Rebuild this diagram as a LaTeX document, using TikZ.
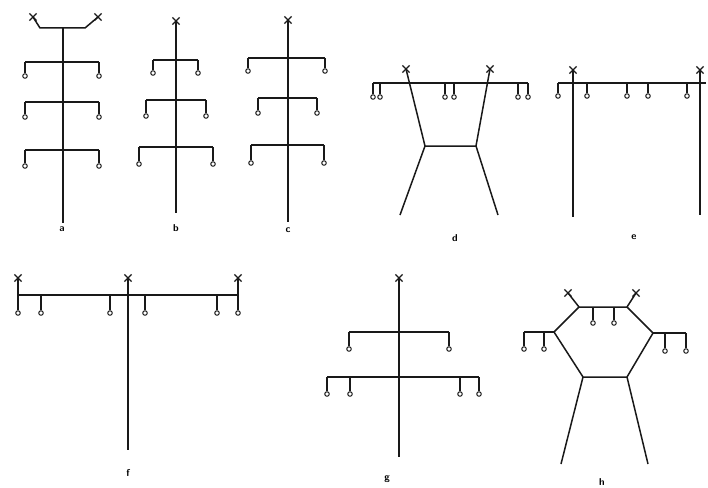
\documentclass[tikz,border=0pt]{standalone}
\usetikzlibrary{shapes.misc}
\tikzset{
  ln/.style={line width=1.5pt, draw=black!90},
  leaf/.style={circle, draw=black!90, line width=1pt, inner sep=0pt, minimum size=4.5pt, fill=white},
  rootx/.style={cross out, draw=black!90, line width=1.2pt, inner sep=0pt, minimum size=6pt},
  lab/.style={font=\sffamily\bfseries\fontsize{10}{12}\selectfont}
}
% twig: name, x, ybar, ycircle
\newcommand\twig[4]{%
  \coordinate (#1j) at (#2,#3);
  \node[leaf] (#1) at (#2,#4) {};
  \draw[ln] (#1j) -- (#1.north);}
% pair: prefix, ybar, xl, xr, ycircle
\newcommand\twigpair[5]{%
  \twig{#1l}{#3}{#2}{#5}\twig{#1r}{#4}{#2}{#5}%
  \draw[ln] (#1lj) -- (#1rj);}
\begin{document}
\begin{tikzpicture}[x=1pt,y=-1pt]
\useasboundingbox (0,0) rectangle (708,487);
% ---------- a ----------
\node[rootx] (aXl) at (33,17) {};
\node[rootx] (aXr) at (98,17) {};
\coordinate (aTl) at (40,28); \coordinate (aTr) at (85,28);
\coordinate (aT) at (63,28); \coordinate (aB) at (63,223);
\draw[ln] (aXl.center) -- (aTl) -- (aTr) -- (aXr.center);
\draw[ln] (aT) -- (aB);
\twigpair{a1}{62}{25}{99}{76}
\twigpair{a2}{102}{25}{99}{117}
\twigpair{a3}{150}{25}{99}{166}
\node[lab] (la) at (62,229) {a};
% ---------- b ----------
\node[rootx] (bX) at (176,21) {};
\coordinate (bB) at (176,213);
\draw[ln] (bX.center) -- (bB);
\twigpair{b1}{60}{153}{198}{73}
\twigpair{b2}{100}{146}{206}{116}
\twigpair{b3}{147}{139}{213}{164}
\node[lab] (lb) at (176,228) {b};
% ---------- c ----------
\node[rootx] (cX) at (288,20) {};
\coordinate (cB) at (288,222);
\draw[ln] (cX.center) -- (cB);
\twigpair{c1}{58}{248}{325}{71}
\twigpair{c2}{98}{258}{317}{113}
\twigpair{c3}{145}{251}{324}{163}
\node[lab] (lc) at (288,230) {c};
% ---------- d ----------
\node[rootx] (dXl) at (406,69) {};
\node[rootx] (dXr) at (490,69) {};
\coordinate (dL) at (425,146); \coordinate (dR) at (476,146);
\coordinate (dLL) at (400,215); \coordinate (dRR) at (498,215);
\draw[ln] (dXl.center) -- (dL) -- (dR) -- (dXr.center);
\draw[ln] (dL) -- (dLL);
\draw[ln] (dR) -- (dRR);
\twig{d1}{373}{83}{97}
\twig{d2}{380}{83}{97}
\twig{d3}{445}{83}{97}
\twig{d4}{454}{83}{97}
\twig{d5}{518}{83}{97}
\twig{d6}{528}{83}{97}
\draw[ln] (d1j) -- (d6j);
\node[lab] (ld) at (455,238) {d};
% ---------- e ----------
\node[rootx] (eXl) at (573,70) {};
\node[rootx] (eXr) at (700,70) {};
\coordinate (eBl) at (573,217); \coordinate (eBr) at (700,215);
\draw[ln] (eXl.center) -- (eBl);
\draw[ln] (eXr.center) -- (eBr);
\twig{e1}{558}{83}{96}
\twig{e2}{587}{83}{96}
\twig{e3}{627}{83}{96}
\twig{e4}{648}{83}{96}
\twig{e5}{687}{83}{96}
\coordinate (eEnd) at (706,83);
\draw[ln] (e1j) -- (eEnd);
\node[lab] (le) at (634,237) {e};
% ---------- f ----------
\node[rootx] (fXl) at (18,278) {};
\node[rootx] (fXc) at (128,278) {};
\node[rootx] (fXr) at (238,278) {};
\coordinate (fB) at (128,450);
\draw[ln] (fXc.center) -- (fB);
\node[leaf] (f1) at (18,313) {};
\node[leaf] (f6) at (238,313) {};
\draw[ln] (fXl.center) -- (f1.north);
\draw[ln] (fXr.center) -- (f6.north);
\coordinate (f1j) at (18,295); \coordinate (f6j) at (238,295);
\twig{f2}{41}{295}{313}
\twig{f3}{110}{295}{313}
\twig{f4}{145}{295}{313}
\twig{f5}{217}{295}{313}
\draw[ln] (f1j) -- (f6j);
\node[lab] (lf) at (128,473) {f};
% ---------- g ----------
\node[rootx] (gX) at (399,278) {};
\coordinate (gB) at (399,457);
\draw[ln] (gX.center) -- (gB);
\twigpair{g1}{332}{349}{449}{349}
\twig{g2}{327}{377}{394}
\twig{g3}{350}{377}{394}
\twig{g4}{460}{377}{394}
\twig{g5}{479}{377}{394}
\draw[ln] (g2j) -- (g5j);
\node[lab] (lg) at (387,479) {g};
% ---------- h ----------
\coordinate (hTL) at (579,307); \coordinate (hTR) at (627,307);
\coordinate (hR) at (653,333); \coordinate (hBR) at (627,377);
\coordinate (hBL) at (583,377); \coordinate (hL) at (554,332);
\draw[ln] (hTL) -- (hTR) -- (hR) -- (hBR) -- (hBL) -- (hL) -- cycle;
\node[rootx] (hXl) at (568,293) {};
\node[rootx] (hXr) at (636,293) {};
\draw[ln] (hTL) -- (hXl.center);
\draw[ln] (hTR) -- (hXr.center);
\twig{h1}{593}{307}{323}
\twig{h2}{614}{307}{323}
\twig{h3}{524}{332}{349}
\twig{h4}{544}{332}{349}
\draw[ln] (hL) -- (h3j);
\twig{h5}{665}{333}{351}
\twig{h6}{686}{333}{351}
\draw[ln] (hR) -- (h6j);
\coordinate (hLL) at (561,464); \coordinate (hRR) at (648,464);
\draw[ln] (hBL) -- (hLL);
\draw[ln] (hBR) -- (hRR);
\node[lab] (lh) at (602,482) {h};
\end{tikzpicture}
\end{document}
